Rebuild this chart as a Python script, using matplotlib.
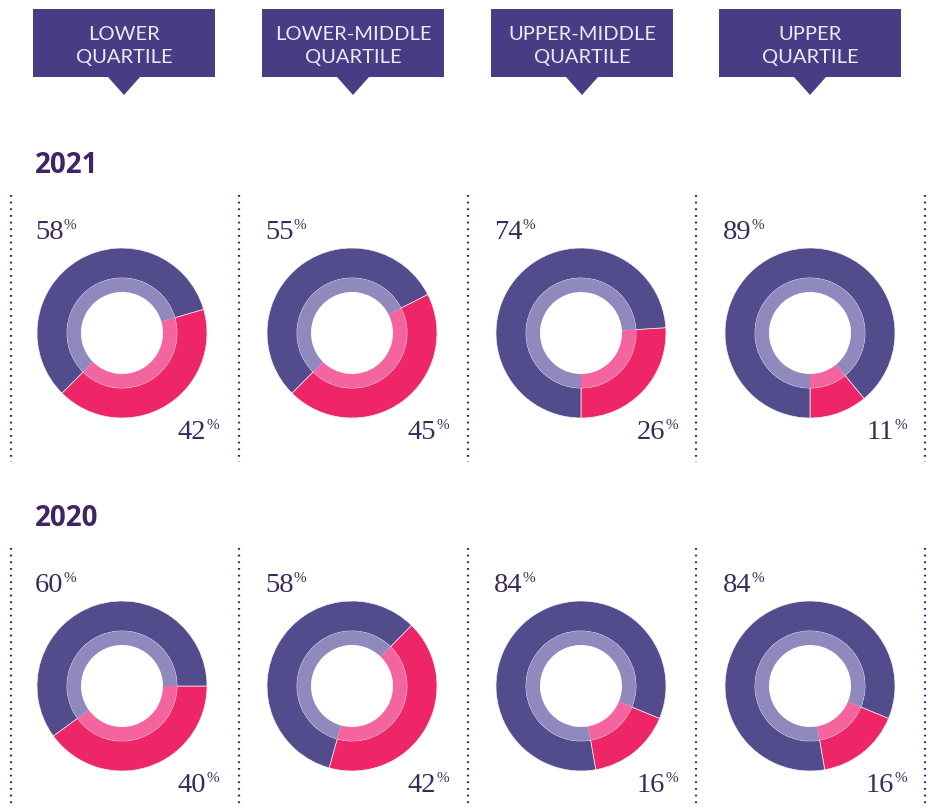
import matplotlib.pyplot as plt
from matplotlib.patches import Polygon

# data
quartiles = ['LOWER\nQUARTILE', 'LOWER-MIDDLE\nQUARTILE', 'UPPER-MIDDLE\nQUARTILE', 'UPPER\nQUARTILE']
years = ['2021', '2020']
purple_2021 = [58, 55, 74, 89]
pink_2021 = [42, 45, 26, 11]
purple_2020 = [60, 58, 84, 84]
pink_2020 = [40, 42, 16, 16]

# layout (pixels)
W, H = 933, 808
col_x = [122, 352, 581, 810]
head_x = [124, 353, 582, 810]
row_y = [333, 686]
start_angles = [[-135, -135, -90, -90], [-144, -105.6, -80, -80]]
R = 85
sep_x = [11, 239, 468, 696, 925]

c_purple = '#524c8c'
c_purple_lt = '#9089bd'
c_pink = '#ee2667'
c_pink_lt = '#f4659f'
c_head = '#463d85'
c_text = '#3b2a5c'
c_year = '#3f2466'

fig = plt.figure(figsize=(W / 100, H / 100), dpi=100)
bg = fig.add_axes([0, 0, 1, 1])
bg.set_xlim(0, W)
bg.set_ylim(H, 0)
bg.axis('off')

# header boxes with pointer
for cx, lab in zip(head_x, quartiles):
    box = Polygon([(cx - 91, 9), (cx + 91, 9), (cx + 91, 77), (cx + 16, 77),
                   (cx, 95), (cx - 16, 77), (cx - 91, 77)], closed=True,
                  facecolor=c_head, edgecolor='none')
    bg.add_patch(box)
    l1, l2 = lab.split('\n')
    bg.text(cx, 40, l1, ha='center', va='baseline', color='#ece9f6',
            fontsize=14.5, family='Lato')
    bg.text(cx, 63, l2, ha='center', va='baseline', color='#ece9f6',
            fontsize=14.5, family='Lato')

# year titles
for cy, yr in zip(row_y, years):
    bg.text(35, cy - 160, yr, ha='left', va='baseline', color=c_year,
            fontsize=20, family='Open Sans', fontweight='bold')

# dotted separators
for cy in row_y:
    y0 = cy - 138
    y1 = min(cy + 129, H)
    for x in sep_x:
        bg.plot([x, x], [y0, y1], color=c_year, lw=1.6,
                linestyle=(0, (0.8, 2.2)), solid_capstyle='round')


def pct_label(x, y, val, align):
    t = bg.text(x, y, str(val), ha=align, va='baseline', color=c_text,
                fontsize=20.5, family='Liberation Serif')
    bg.annotate('%', xy=(1, 1), xycoords=t, xytext=(0.2, 1.0),
                textcoords='offset points', ha='left', va='top',
                color=c_text, fontsize=11, family='Liberation Serif')


rows = [(purple_2021, pink_2021), (purple_2020, pink_2020)]
for r, (purp, pink) in enumerate(rows):
    cy = row_y[r]
    for c, cx in enumerate(col_x):
        ax = fig.add_axes([(cx - R) / W, 1 - (cy + R) / H, 2 * R / W, 2 * R / H])
        vals = [pink[c], purp[c]]
        ax.pie(vals, radius=1, startangle=start_angles[r][c], counterclock=True,
               colors=[c_pink, c_purple],
               wedgeprops=dict(width=30 / R, edgecolor='#f3eef6', linewidth=0.5))
        ax.pie(vals, radius=55 / R, startangle=start_angles[r][c], counterclock=True,
               colors=[c_pink_lt, c_purple_lt],
               wedgeprops=dict(width=14 / R, edgecolor='none'))
        ax.set_xlim(-1, 1)
        ax.set_ylim(-1, 1)
        ax.set_aspect('equal')
        ax.axis('off')

        pct_label(cx - 87, cy - 94, purp[c], 'left')
        pct_label(cx + 84, cy + 106, pink[c], 'right')

fig.savefig('out.png', dpi=100)
